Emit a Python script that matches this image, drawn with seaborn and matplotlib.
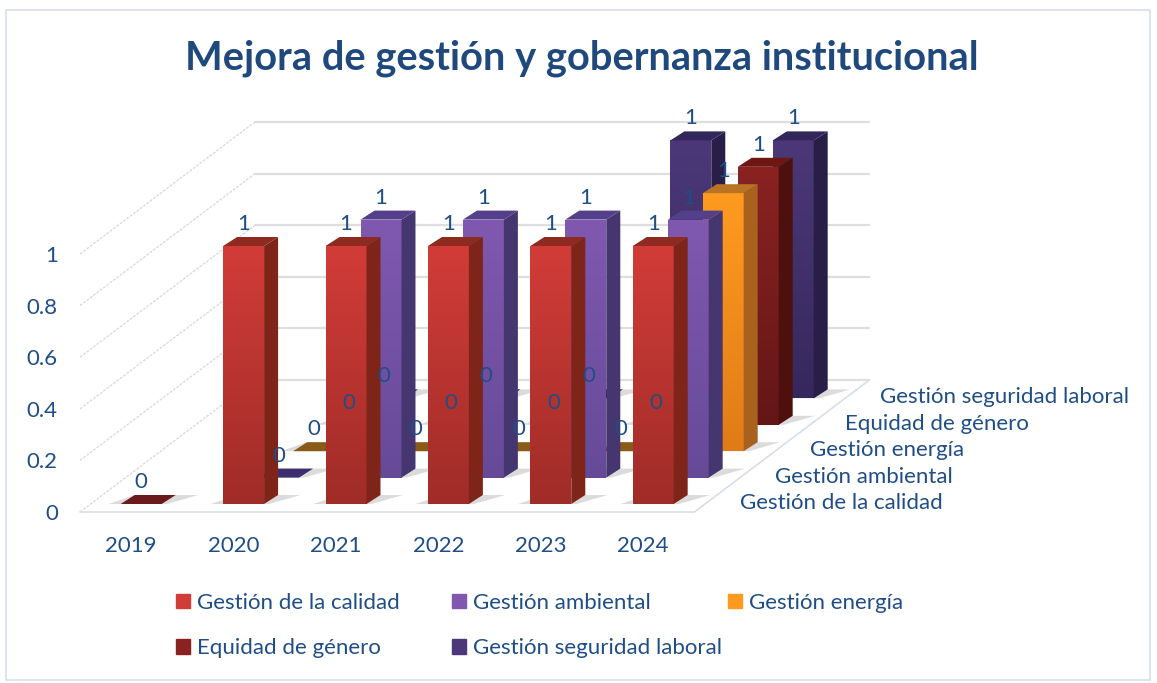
import numpy as np
import pandas as pd
import matplotlib
matplotlib.use("Agg")
import matplotlib.pyplot as plt
import matplotlib.patches as mpatches
from matplotlib.transforms import offset_copy
import seaborn as sns

# === Datos ===
anios = ["2019", "2020", "2021", "2022", "2023", "2024"]
calidad = [0, 1, 1, 1, 1, 1]
ambiental = [np.nan, 0, 1, 1, 1, 1]
energia = [np.nan, 0, 0, 0, 0, 1]
equidad = [np.nan, 0, 0, 0, 0, 1]
seguridad = [np.nan, 0, 0, 0, 1, 1]
nombres = ["Gestión de la calidad", "Gestión ambiental", "Gestión energía",
           "Equidad de género", "Gestión seguridad laboral"]
valores = [calidad, ambiental, energia, equidad, seguridad]
ticks_y = [0, 0.2, 0.4, 0.6, 0.8, 1]

# === Estilo ===
AZUL = "#1F4E87"
# color arriba, color abajo, lateral, tapa, tapa plana (valor 0)
colores = [
    ("#D23C38", "#A02C28", "#7E2418", "#8E2A20", "#6A1A1C"),
    ("#8058B0", "#664A98", "#463670", "#54408A", "#3C2E70"),
    ("#FF9A20", "#E07C18", "#A8621E", "#B87424", "#8A5A18"),
    ("#8A2222", "#641616", "#4E100C", "#6E1612", "#5A1414"),
    ("#4C3878", "#36285C", "#281E48", "#33265A", "#2C2250"),
]
PX_X = 102.4   # pixeles por categoria
PX_Y = 258.0   # pixeles por unidad
FILA_X = 35.0 / PX_X
FILA_Y = 26.4 / PX_Y
FONDO_X = 14.0 / PX_X
FONDO_Y = 9.0 / PX_Y
INI_X = 10.0 / PX_X
INI_Y = 8.0 / PX_Y
FS = 16

sns.set_theme(style="white")
plt.rcParams["font.family"] = ["Lato", "DejaVu Sans"]

df = pd.DataFrame({
    "anio": anios * len(nombres),
    "serie": np.repeat(nombres, len(anios)),
    "valor": np.concatenate(valores),
})

fig = plt.figure(figsize=(11.57, 6.83), dpi=100)
ax = fig.add_axes([80 / 1157, (683 - 512) / 683, 6 * PX_X / 1157, PX_Y / 683])
ax.patch.set_alpha(0)

# === Marco exterior ===
fig.add_artist(mpatches.Rectangle((6 / 1157, 3 / 683), 1144 / 1157, 670 / 683,
                                  transform=fig.transFigure, fill=False,
                                  edgecolor="#D5DFEE", linewidth=1.2))

# === Paredes y piso ===
prof_x = FILA_X * 5
prof_y = FILA_Y * 5
for t in ticks_y:
    ax.plot([-0.5, -0.5 + prof_x], [t, t + prof_y], color="#D8DCE0", lw=1.0,
            ls=(0, (2, 1)), clip_on=False, zorder=1)
    ax.plot([-0.5 + prof_x, 5.5 + prof_x], [t + prof_y, t + prof_y],
            color="#DEDEDE", lw=1.6, clip_on=False, zorder=1)
ax.plot([-0.5, 5.5, 5.5 + prof_x], [0, 0, prof_y], color="#D5DFEA", lw=1.2,
        clip_on=False, zorder=1)


def dibujar_fila(nombre, fila):
    """Dibuja una serie en su fila de profundidad con caras y degradado"""
    c_arriba, c_abajo, c_lado, c_tapa, c_plano = colores[fila]
    base_z = 10 * (6 - fila)
    antes = len(ax.patches)
    sns.barplot(data=df[df["serie"] == nombre], x="anio", y="valor", order=anios,
                color=c_arriba, saturation=1, width=0.4, ax=ax, zorder=base_z + 2)
    ox = INI_X + FILA_X * fila
    oy = INI_Y + FILA_Y * fila
    grad = np.linspace(matplotlib.colors.to_rgb(c_arriba),
                       matplotlib.colors.to_rgb(c_abajo), 64)[:, None, :]
    for p in ax.patches[antes:]:
        x0 = p.get_x() + ox
        x1 = x0 + p.get_width()
        alto = p.get_height()
        p.set_x(x0)
        p.set_y(oy)
        p.set_clip_on(False)
        p.set_linewidth(0)
        # sombra sobre el piso
        sombra = [(x0 - 0.12, oy), (x1 + 0.05, oy),
                  (x1 + FONDO_X + 0.22, oy + FONDO_Y), (x0 + FONDO_X, oy + FONDO_Y)]
        ax.add_patch(mpatches.Polygon(sombra, closed=True, facecolor="#808080", alpha=0.28,
                                      lw=0, clip_on=False, zorder=base_z))
        if alto > 0:
            img = ax.imshow(grad, extent=[x0, x1, oy, oy + alto], aspect="auto",
                            zorder=base_z + 3, interpolation="bilinear")
            img.set_clip_path(p)
            lado = [(x1, oy), (x1 + FONDO_X, oy + FONDO_Y),
                    (x1 + FONDO_X, oy + FONDO_Y + alto), (x1, oy + alto)]
            ax.add_patch(mpatches.Polygon(lado, closed=True, facecolor=c_lado, lw=0,
                                          clip_on=False, zorder=base_z + 3))
        tapa = [(x0, oy + alto), (x1, oy + alto),
                (x1 + FONDO_X, oy + alto + FONDO_Y), (x0 + FONDO_X, oy + alto + FONDO_Y)]
        ax.add_patch(mpatches.Polygon(tapa, closed=True, lw=0, clip_on=False,
                                      facecolor=c_tapa if alto > 0 else c_plano,
                                      zorder=base_z + 3))
        # etiqueta de valor
        trans = offset_copy(ax.transData, fig=fig, x=0, y=22, units="dots")
        ax.text((x0 + x1) / 2, oy + alto, f"{alto:.0f}", transform=trans, color=AZUL,
                fontsize=FS, ha="center", va="center", zorder=200, clip_on=False)


# === Barras de atras hacia adelante ===
for fila in range(len(nombres) - 1, -1, -1):
    dibujar_fila(nombres[fila], fila)

ax.set_xlim(-0.5, 5.5)
ax.set_ylim(0, 1)
ax.set_xlabel("")
ax.set_ylabel("")
ax.set_yticks(ticks_y)
ax.set_yticklabels(["0", "0.2", "0.4", "0.6", "0.8", "1"])
ax.tick_params(axis="y", length=0, pad=16, labelsize=FS, labelcolor=AZUL)
ax.tick_params(axis="x", length=0, pad=17, labelsize=FS, labelcolor=AZUL)
ax.grid(False)
sns.despine(ax=ax, left=True, bottom=True)

# === Nombres de series a la derecha ===
for fila, nombre in enumerate(nombres):
    ax.text(5.5 + FILA_X * fila + 46 / PX_X, FILA_Y * fila + 9 / PX_Y, nombre,
            color=AZUL, fontsize=FS, ha="left", va="center", clip_on=False)

# === Titulo ===
fig.text(582 / 1157, 1 - 58 / 683, "Mejora de gestión y gobernanza institucional",
         color="#1F497D", fontsize=28.7, fontweight="bold", ha="center", va="center")

# === Leyenda por columnas ===
columnas = [([0, 3], 176), ([1, 4], 452), ([2], 728)]
for indices, x_px in columnas:
    handles = [mpatches.Patch(color=colores[i][0], label=nombres[i]) for i in indices]
    fig.legend(handles=handles, loc="upper left", bbox_to_anchor=(x_px / 1157, 1 - 593 / 683),
               frameon=False, fontsize=FS, labelcolor=AZUL, borderpad=0, borderaxespad=0,
               handlelength=0.63, handleheight=0.63, handletextpad=0.3, labelspacing=1.13)

fig.savefig("out.png", dpi=100)
